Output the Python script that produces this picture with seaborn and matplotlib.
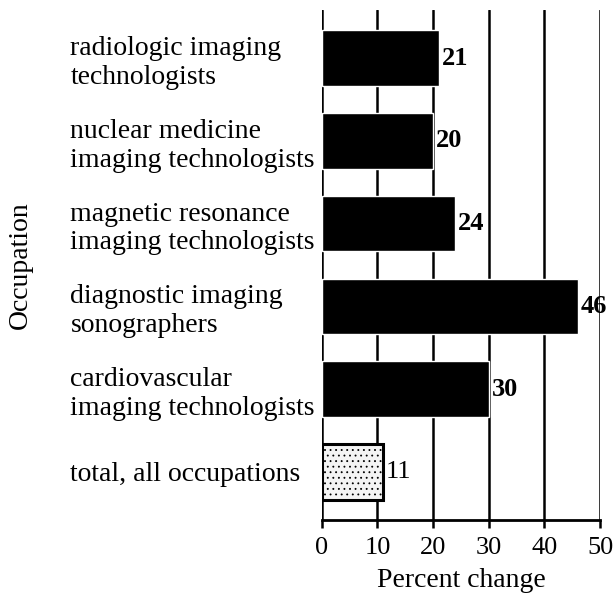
import matplotlib
matplotlib.use("Agg")
import matplotlib.pyplot as plt
import seaborn as sns

# -----------------------
# Data
# -----------------------
occupations = [
    "radiologic imaging\ntechnologists",
    "nuclear medicine\nimaging technologists",
    "magnetic resonance\nimaging technologists",
    "diagnostic imaging\nsonographers",
    "cardiovascular\nimaging technologists",
    "total, all occupations",
]
percent_change = [21, 20, 24, 46, 30, 11]
x_ticks = [0, 10, 20, 30, 40, 50]

sns.set_theme(style="white")
plt.rcParams["font.family"] = ["Liberation Serif", "DejaVu Serif"]
plt.rcParams["text.color"] = "black"
plt.rcParams["axes.labelcolor"] = "black"
plt.rcParams["xtick.color"] = "black"
plt.rcParams["ytick.color"] = "black"
plt.rcParams["hatch.linewidth"] = 0.6
plt.rcParams["hatch.color"] = "#555555"

fig = plt.figure(figsize=(6.13, 6.01), dpi=100)
ax = fig.add_axes([0.525, 0.135, 0.454, 0.848])

sns.barplot(x=percent_change, y=occupations, orient="h", color="black",
            saturation=1, width=0.67, ax=ax)

# last bar (total) is a light speckled box with a black outline
total_bar = ax.patches[-1]
total_bar.set_facecolor("#f4f4f4")
total_bar.set_edgecolor("black")
total_bar.set_linewidth(2.2)
total_bar.set_hatch("...")

# value labels next to each bar
for i, v in enumerate(percent_change):
    ax.text(v + 0.5, i, str(v), va="center", ha="left", fontsize=19,
            fontweight="bold" if i < 5 else "normal", color="black")

ax.set_xlim(0, 50)
ax.set_ylim(5.58, -0.58)
ax.set_xticks(x_ticks)
ax.set_xticklabels([str(t) for t in x_ticks], fontsize=19)

# vertical grid lines
for t in x_ticks:
    ax.axvline(t, color="black", lw=1.8, zorder=0)

for s in ["top", "left", "right"]:
    ax.spines[s].set_visible(False)
ax.spines["bottom"].set_color("black")
ax.spines["bottom"].set_linewidth(2)
ax.tick_params(axis="x", direction="out", length=6, width=1.8, colors="black",
               bottom=True, pad=6)
ax.tick_params(axis="y", length=0, pad=181, colors="black")
for lbl in ax.get_yticklabels():
    lbl.set_horizontalalignment("left")
    lbl.set_fontsize(20)

ax.set_xlabel("Percent change", fontsize=20, labelpad=7, color="black")
ax.set_ylabel("Occupation", fontsize=20, color="black")
ax.yaxis.set_label_coords(-1.04, 0.5)

plt.savefig("out.png", dpi=100)
plt.close()
